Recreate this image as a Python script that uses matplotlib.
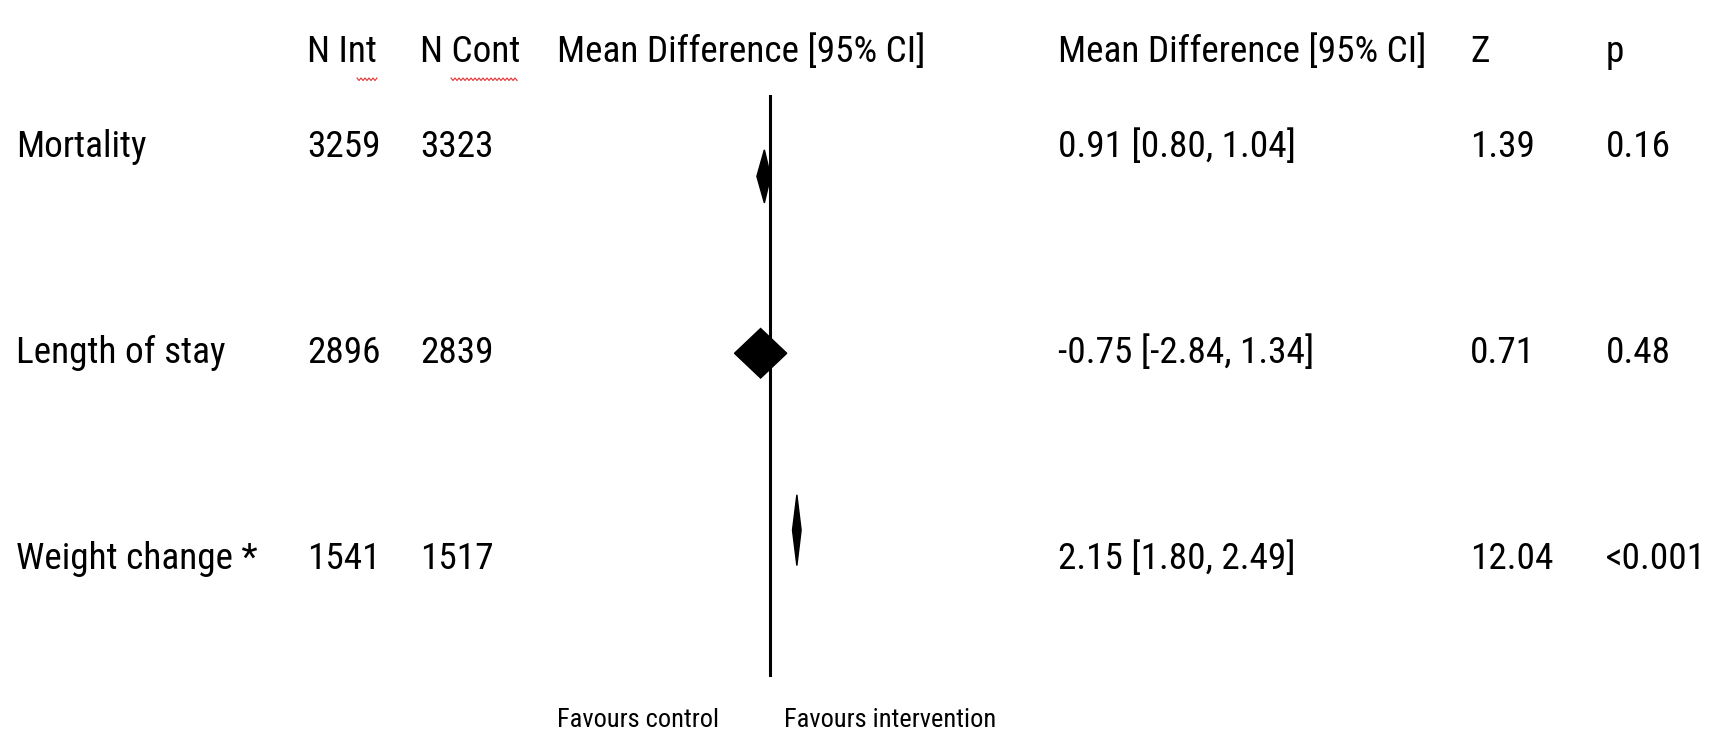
import matplotlib
matplotlib.use("Agg")
import matplotlib.pyplot as plt
import numpy as np
from matplotlib.patches import Polygon
from matplotlib import font_manager

# outcome table
outcomes = ['Mortality', 'Length of stay', 'Weight change *']
n_int = [3259, 2896, 1541]
n_cont = [3323, 2839, 1517]
md_text = ['0.91 [0.80, 1.04]', '-0.75 [-2.84, 1.34]', '2.15 [1.80, 2.49]']
z_vals = ['1.39', '0.71', '12.04']
p_vals = ['0.16', '0.48', '<0.001']

# diamond extents as drawn on the plot scale
d_mid = [-0.45, -0.75, 2.15]
d_lo = [-1.05, -2.84, 1.80]
d_hi = [0.05, 1.34, 2.49]
d_half = [0.15, 0.14, 0.20]

W, H = 1717, 737

# pick a narrow font if there is one
font = 'DejaVu Sans'
for name in ['Liberation Sans Narrow', 'Roboto Condensed', 'Open Sans Condensed']:
    try:
        font_manager.findfont(name, fallback_to_default=False)
        font = name
        break
    except ValueError:
        pass
plt.rcParams['font.family'] = font

fig = plt.figure(figsize=(W / 100, H / 100), dpi=100)


def fx(px):
    return px / W


def fy(py):
    return 1 - py / H


fs = 26.8

# header
header_y = 62
for x, t in [(307, 'N Int'), (420, 'N Cont'), (557, 'Mean Difference [95% CI]'),
             (1058, 'Mean Difference [95% CI]'), (1470, 'Z'), (1606, 'p')]:
    fig.text(fx(x), fy(header_y), t, fontsize=fs, va='baseline', ha='left')

# red spell-check squiggles under N Int / N Cont
for x0, x1 in [(357, 378), (451, 518)]:
    xs = np.arange(x0, x1 + 1, 2.0)
    ys = 78 + np.where(np.arange(len(xs)) % 2 == 0, 0, 2.5)
    fig.lines.append(plt.Line2D(fx(xs), fy(ys), color='#e03030', lw=0.8,
                                transform=fig.transFigure))

# table rows
for i, name in enumerate(outcomes):
    yb = 157 + 206 * i
    fig.text(fx(16), fy(yb), name, fontsize=fs, va='baseline')
    fig.text(fx(307), fy(yb), str(n_int[i]), fontsize=fs, va='baseline')
    fig.text(fx(420), fy(yb), str(n_cont[i]), fontsize=fs, va='baseline')
    fig.text(fx(1058), fy(yb), md_text[i], fontsize=fs, va='baseline')
    fig.text(fx(1470), fy(yb), z_vals[i], fontsize=fs, va='baseline')
    fig.text(fx(1606), fy(yb), p_vals[i], fontsize=fs, va='baseline')

fig.text(fx(557), fy(727), 'Favours control', fontsize=19, va='baseline')
fig.text(fx(784), fy(727), 'Favours intervention', fontsize=19, va='baseline')

# forest plot
ax = fig.add_axes([fx(557), fy(677), fx(1000 - 557), (677 - 95) / H])
ax.set_xlim(-17.04, 18.4)
ax.set_ylim(2.83, -0.46)
ax.axvline(0, color='black', lw=2.2)
for i in range(len(outcomes)):
    pts = [(d_lo[i], i), (d_mid[i], i - d_half[i]), (d_hi[i], i), (d_mid[i], i + d_half[i])]
    ax.add_patch(Polygon(pts, closed=True, color='black'))
ax.axis('off')

fig.savefig('out.png', dpi=100)
